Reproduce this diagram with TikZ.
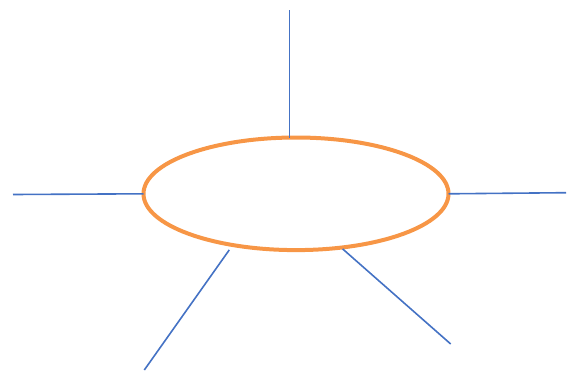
\documentclass[tikz,border=0pt]{standalone}
\usetikzlibrary{shapes.geometric}
\definecolor{spokeblue}{HTML}{4472C4}
\definecolor{hubrange}{HTML}{F79646}

\begin{document}
\begin{tikzpicture}[x=1pt,y=-1pt,
    spoke/.style={spokeblue, line width=1.6pt},
    hubshape/.style={ellipse, draw=hubrange, line width=4pt,
      minimum width=305pt, minimum height=112.6pt, inner sep=0pt, outer sep=0pt},
  ]
  \useasboundingbox (0,0) rectangle (568,370);

  % central ellipse
  \node[hubshape] (hub) at (296,193.8) {};

  % free ends of the spokes
  \coordinate (topend) at (289.3,10);
  \coordinate (leftend) at (13,194.5);
  \coordinate (rightend) at (566,192.7);
  \coordinate (lowleftend) at (144.3,370);
  \coordinate (lowrightend) at (450.7,344);

  % spokes
  \draw[spoke] (topend) -- (topend |- hub.north);
  \draw[spoke] (leftend) -- (hub.west);
  \draw[spoke] (rightend) -- (hub.east);
  \draw[spoke, shorten >=6pt] (lowleftend) -- (hub.219);
  \draw[spoke, shorten >=2pt] (lowrightend) -- (hub.310);
\end{tikzpicture}
\end{document}
